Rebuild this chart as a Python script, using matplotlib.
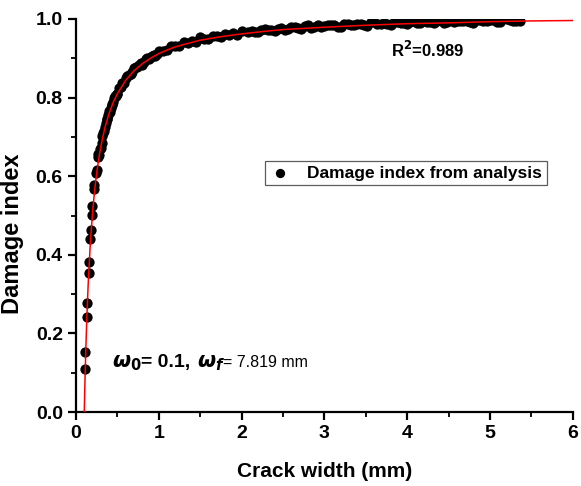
import matplotlib
matplotlib.use("Agg")
import matplotlib.pyplot as plt
from matplotlib.ticker import MultipleLocator

plt.rcParams['font.family'] = ['Liberation Sans', 'DejaVu Sans']

# Fitted curve
fit_x = [0.1, 0.105, 0.11, 0.12, 0.13, 0.14, 0.15, 0.17, 0.18, 0.2, 0.22, 0.23, 0.25, 0.26,
         0.28, 0.3, 0.32, 0.35, 0.4, 0.45, 0.5, 0.6, 0.7, 0.8, 0.9, 1.0, 1.1, 1.2, 1.3, 1.5,
         1.75, 2.0, 2.25, 2.5, 3.0, 3.5, 4.0, 4.5, 5.0, 5.5, 6.0]
fit_y = [0.0, 0.048, 0.092, 0.169, 0.234, 0.289, 0.338, 0.417, 0.450, 0.507, 0.553, 0.573, 0.608, 0.623,
         0.651, 0.675, 0.696, 0.724, 0.760, 0.788, 0.810, 0.844, 0.868, 0.886, 0.900, 0.912, 0.921, 0.929, 0.935, 0.946,
         0.955, 0.962, 0.968, 0.973, 0.979, 0.984, 0.988, 0.990, 0.993, 0.995, 0.996]

# Damage index from analysis: sparse points at small crack widths
width_low = [0.105, 0.105, 0.128, 0.130, 0.155, 0.157, 0.175, 0.178, 0.195, 0.197, 0.215, 0.218,
             0.245, 0.250, 0.268, 0.270]
damage_low = [0.109, 0.153, 0.242, 0.277, 0.353, 0.382, 0.440, 0.463, 0.501, 0.524, 0.567, 0.578,
              0.609, 0.616, 0.648, 0.656]

# dense band up to 1 mm
width_mid = [0.28, 0.29, 0.30, 0.31, 0.32, 0.33, 0.34, 0.35, 0.36, 0.37, 0.38, 0.39, 0.40, 0.41,
             0.42, 0.43, 0.44, 0.45, 0.46, 0.47, 0.48, 0.49, 0.50, 0.52, 0.54, 0.56, 0.58, 0.60,
             0.62, 0.64, 0.66, 0.68, 0.70, 0.72, 0.74, 0.76, 0.78, 0.80, 0.82, 0.84, 0.86, 0.88,
             0.90, 0.92, 0.94, 0.96, 0.98, 1.00]
damage_mid = [0.654, 0.669, 0.673, 0.685, 0.702, 0.710, 0.716, 0.724, 0.736, 0.745, 0.745, 0.755, 0.767, 0.764,
              0.774, 0.782, 0.783, 0.789, 0.798, 0.803, 0.805, 0.808, 0.808, 0.824, 0.826, 0.836, 0.837, 0.851,
              0.854, 0.857, 0.859, 0.864, 0.874, 0.877, 0.878, 0.883, 0.888, 0.884, 0.890, 0.898, 0.901, 0.899,
              0.902, 0.907, 0.909, 0.906, 0.911, 0.919]

# dense band 1-2 mm
width_c = [1.05, 1.10, 1.15, 1.20, 1.25, 1.30, 1.35, 1.40, 1.45, 1.50, 1.55, 1.60, 1.65, 1.70,
           1.75, 1.80, 1.85, 1.90, 1.95, 2.00]
damage_c = [0.918, 0.921, 0.930, 0.932, 0.930, 0.941, 0.939, 0.945, 0.942, 0.953, 0.950, 0.950, 0.957, 0.956,
            0.953, 0.963, 0.959, 0.964, 0.960, 0.969]

# dense band beyond 2 mm
width_high = [2.08, 2.12, 2.16, 2.20, 2.24, 2.28, 2.32, 2.36, 2.40, 2.44, 2.48, 2.52, 2.56, 2.60,
              2.64, 2.68, 2.72, 2.76, 2.80, 2.84, 2.88, 2.92, 2.96, 3.00, 3.04, 3.08, 3.12, 3.16,
              3.20, 3.24, 3.28, 3.32, 3.36, 3.40, 3.44, 3.48, 3.52, 3.56, 3.60, 3.64, 3.68, 3.72,
              3.76, 3.80, 3.84, 3.88, 3.92, 3.96, 4.00, 4.04, 4.08, 4.12, 4.16, 4.20, 4.24, 4.28,
              4.32, 4.36, 4.40, 4.44, 4.48, 4.52, 4.56, 4.60, 4.64, 4.68, 4.72, 4.76, 4.80, 4.84,
              4.88, 4.92, 4.96, 5.00, 5.04, 5.08, 5.12, 5.16, 5.20, 5.24, 5.28, 5.32, 5.36]
damage_high = [0.966, 0.970, 0.966, 0.968, 0.973, 0.975, 0.972, 0.972, 0.969, 0.975, 0.978, 0.972, 0.974, 0.980,
               0.979, 0.978, 0.975, 0.981, 0.984, 0.978, 0.980, 0.984, 0.979, 0.981, 0.985, 0.984, 0.984, 0.980,
               0.979, 0.988, 0.988, 0.985, 0.984, 0.988, 0.988, 0.985, 0.983, 0.991, 0.992, 0.987, 0.988, 0.990,
               0.986, 0.985, 0.992, 0.993, 0.990, 0.990, 0.986, 0.993, 0.994, 0.989, 0.990, 0.995, 0.993, 0.991,
               0.989, 0.994, 0.997, 0.989, 0.992, 0.997, 0.991, 0.994, 0.996, 0.996, 0.995, 0.993, 0.990, 0.998,
               0.998, 0.994, 0.994, 0.997, 0.997, 0.992, 0.992, 0.999, 1.001, 0.997, 0.996, 0.995, 0.994]

x_ticks = [0, 1, 2, 3, 4, 5, 6]
y_ticks = [0.0, 0.2, 0.4, 0.6, 0.8, 1.0]

crack_width = width_low + width_mid + width_c + width_high
damage_index = damage_low + damage_mid + damage_c + damage_high

fig = plt.figure(figsize=(5.81, 4.86), dpi=100)
ax = fig.add_axes([0.1308, 0.152, 0.855, 0.809])

ax.scatter(crack_width, damage_index, s=55, color='black', linewidths=0, zorder=2,
           label='Damage index from analysis')
ax.plot(fit_x, fit_y, color='red', lw=1.1, zorder=3)

ax.set_xlim(0, 6)
ax.set_ylim(0, 1.0)
ax.set_xticks(x_ticks)
ax.set_xticklabels([str(v) for v in x_ticks])
ax.set_yticks(y_ticks)
ax.set_yticklabels([f"{v:.1f}" for v in y_ticks])
ax.xaxis.set_minor_locator(MultipleLocator(0.5))
ax.yaxis.set_minor_locator(MultipleLocator(0.1))

for s in ['top', 'right']:
    ax.spines[s].set_visible(False)
for s in ['left', 'bottom']:
    ax.spines[s].set_linewidth(1.6)
ax.tick_params(which='major', direction='out', length=6, width=1.6, labelsize=14)
ax.tick_params(which='minor', direction='out', length=3.5, width=1.3)
for lab in ax.get_xticklabels() + ax.get_yticklabels():
    lab.set_fontweight('bold')

ax.set_xlabel('Crack width (mm)', fontsize=15, fontweight='bold', labelpad=14)
ax.set_ylabel('Damage index', fontsize=17, fontweight='bold')
ax.yaxis.set_label_coords(-0.105, 0.453)

leg = ax.legend(loc='upper left', bbox_to_anchor=(0.380, 0.638), frameon=True, fancybox=False,
                edgecolor='#333333', prop={'weight': 'bold', 'size': 12.5},
                handletextpad=0.9, borderpad=0.25, borderaxespad=0.0, handlelength=1.3,
                markerscale=0.9)
leg.get_frame().set_linewidth(0.9)

ax.text(3.8, 0.92, r'R$^{\mathbf{2}}$=0.989', fontsize=12, fontweight='bold',
        ha='left', va='center')

yb = 0.115
ax.text(0.44, yb, r'$\boldsymbol{\omega}_{\boldsymbol{0}}$', fontsize=15,
        ha='left', va='baseline')
ax.text(0.78, yb, '= 0.1,', fontsize=14, fontweight='bold', ha='left', va='baseline')
ax.text(1.46, yb, r'$\boldsymbol{\omega}_{\boldsymbol{f}}$', fontsize=15,
        ha='left', va='baseline')
ax.text(1.78, yb, '= 7.819 mm', fontsize=11.5, ha='left', va='baseline')

fig.savefig('out.png', dpi=100)
